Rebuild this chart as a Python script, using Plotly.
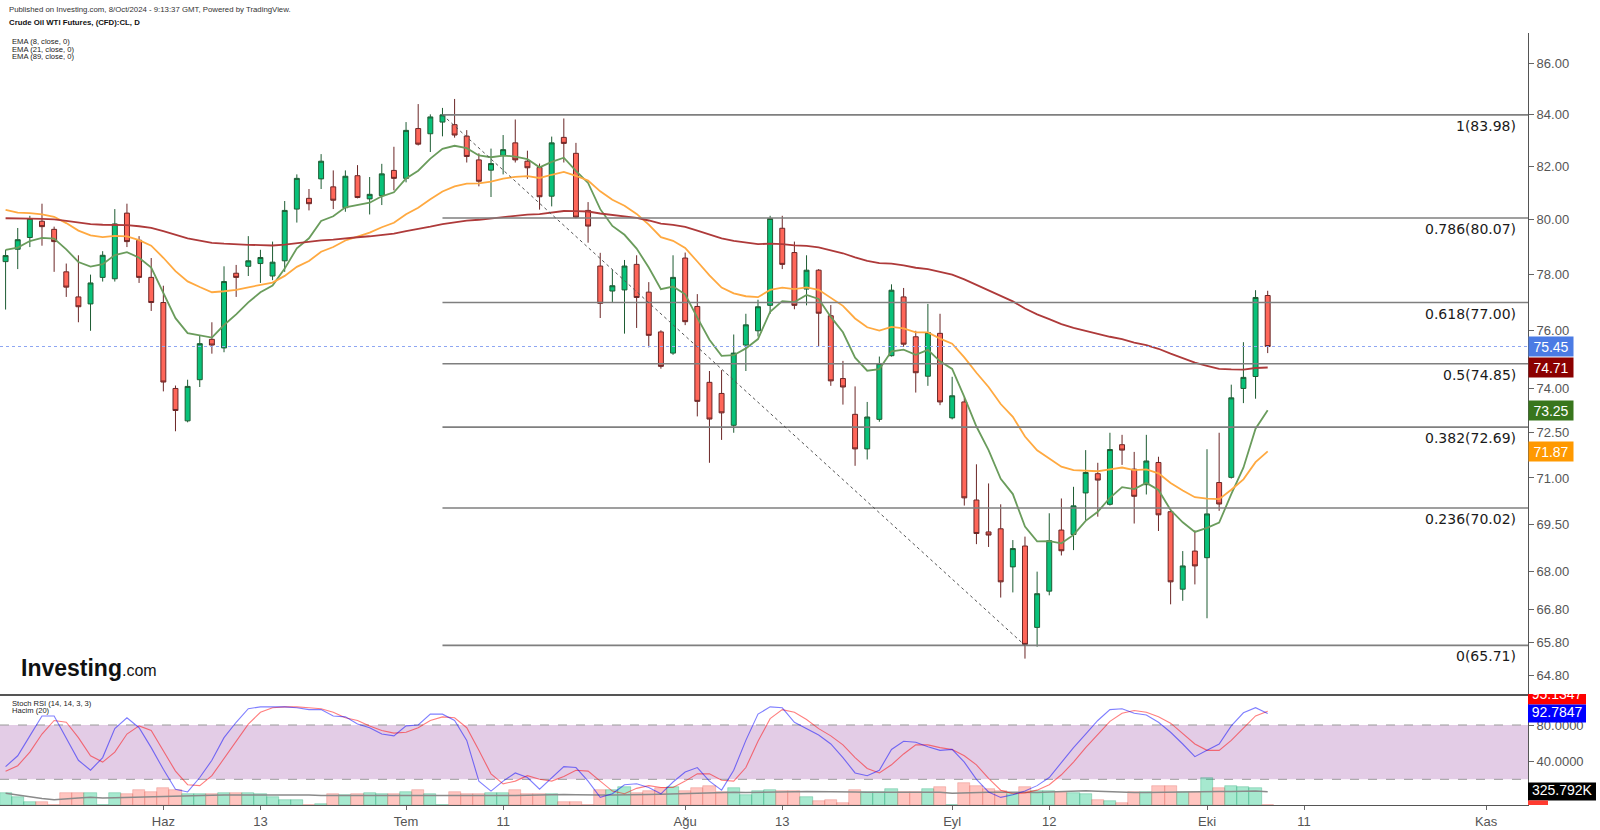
import math
import pandas as pd
import plotly.graph_objects as go

W, H = 1600, 830

# ---------------- data ----------------
# trading-day index: 0 = 3 Jun 2024 (Haz), last = 8 Oct 2024
day_index = list(range(-13, 92))

opens = [78.47, 78.92, 79.35, 79.95, 79.65, 78.10, 77.20, 76.95, 77.90, 77.85, 80.25, 79.25, 77.90,
         77.00, 74.00, 72.90, 74.30, 75.70, 75.40, 78.05, 78.30, 78.40, 77.95,
         78.50, 80.40, 80.80, 81.53, 81.23, 80.45, 81.65, 80.78, 80.90, 81.85,
         81.55, 83.45, 83.25, 83.70, 83.60, 83.16, 82.25, 81.86, 82.42, 82.90,
         82.20, 81.96, 80.88, 83.11, 82.50, 80.35, 78.31, 77.41, 77.45, 78.37,
         77.37, 75.96, 75.22, 78.60, 76.86, 74.21, 73.83, 72.75, 75.50, 76.00,
         76.90, 79.69, 78.80, 77.48, 78.16, 76.53, 74.34, 73.12, 71.96, 72.95,
         75.13, 77.20, 75.79, 74.42, 75.91, 73.00, 73.54, 70.28, 69.25, 69.35,
         68.14, 68.80, 66.26, 67.38, 69.31, 69.17, 70.51, 71.14, 70.14, 72.10,
         71.29, 70.78, 71.51, 69.90, 67.44, 68.64, 68.43, 70.85, 71.02, 74.00,
         74.41, 77.25]
highs = [78.90, 79.70, 80.15, 80.60, 79.75, 78.40, 78.70, 78.00, 78.85, 80.40, 80.60, 79.40, 78.60,
         77.60, 74.10, 74.30, 75.85, 76.30, 78.30, 78.35, 79.40, 78.90, 79.20,
         80.70, 81.70, 81.15, 82.47, 81.85, 81.85, 82.05, 81.60, 82.10, 82.75,
         83.70, 84.40, 84.00, 84.25, 84.60, 83.39, 82.50, 82.68, 83.20, 83.80,
         82.60, 82.11, 83.14, 83.84, 82.90, 80.66, 78.79, 78.18, 78.53, 78.70,
         77.73, 76.02, 78.70, 78.80, 77.30, 74.60, 74.63, 75.87, 76.60, 77.10,
         80.15, 80.15, 79.20, 78.70, 78.20, 76.91, 74.95, 74.07, 73.54, 75.10,
         77.65, 77.52, 76.00, 76.95, 76.60, 74.40, 73.70, 71.45, 70.82, 70.14,
         68.99, 69.10, 67.99, 69.85, 70.33, 70.71, 71.92, 71.50, 72.50, 72.43,
         71.86, 72.43, 71.70, 70.00, 68.64, 69.30, 71.95, 72.50, 74.13, 75.60,
         77.44, 77.42]
lows = [76.75, 78.20, 79.00, 79.05, 78.10, 77.20, 76.30, 76.00, 77.75, 77.75, 79.00, 77.70, 76.70,
        73.90, 72.55, 72.85, 74.05, 75.20, 75.25, 77.20, 77.95, 77.70, 77.80,
        78.10, 79.90, 80.35, 81.15, 80.40, 80.30, 80.80, 80.20, 80.55, 81.10,
        81.40, 82.80, 82.55, 83.15, 83.10, 82.15, 81.25, 80.85, 81.70, 82.15,
        81.53, 80.38, 80.50, 82.15, 80.06, 79.16, 76.45, 76.99, 75.90, 76.10,
        75.42, 74.68, 75.16, 76.20, 73.05, 71.50, 72.26, 72.50, 74.60, 75.80,
        76.60, 78.20, 76.76, 76.90, 75.45, 74.09, 73.45, 71.40, 71.61, 72.87,
        75.10, 75.44, 73.86, 74.09, 73.43, 72.95, 70.10, 68.86, 68.77, 67.18,
        67.34, 65.31, 65.67, 67.25, 68.50, 68.67, 69.63, 69.74, 70.10, 71.43,
        69.52, 70.46, 69.28, 66.97, 67.08, 67.59, 66.54, 69.93, 70.98, 73.50,
        73.65, 75.22]
closes = [78.69, 79.27, 80.05, 79.75, 79.20, 77.55, 76.85, 77.70, 78.70, 79.85, 79.20, 77.90, 77.00,
          74.22, 73.25, 74.07, 75.55, 75.50, 77.75, 77.90, 78.50, 78.62, 78.45,
          80.35, 81.55, 80.60, 82.20, 80.73, 81.63, 80.83, 80.95, 81.72, 81.55,
          83.38, 82.85, 83.90, 83.98, 83.20, 82.38, 81.44, 82.11, 82.64, 82.25,
          81.95, 80.86, 82.90, 82.88, 80.10, 79.77, 76.97, 77.60, 78.31, 77.18,
          75.84, 74.76, 77.90, 76.32, 73.56, 72.96, 73.17, 75.22, 76.21, 76.85,
          80.05, 78.37, 76.90, 78.16, 76.62, 74.26, 74.05, 71.96, 73.03, 74.86,
          77.44, 75.53, 74.54, 75.94, 73.54, 73.75, 70.35, 69.20, 69.15, 67.67,
          68.72, 65.74, 67.30, 68.97, 68.65, 70.09, 71.18, 70.93, 71.94, 71.92,
          70.40, 71.56, 69.80, 67.67, 68.17, 68.17, 69.83, 70.15, 73.68, 74.38,
          77.18, 75.45]

volume_k = [280, 200, 72, 72, 12, 280, 280, 280, 12, 280, 257, 353, 320,
            400, 360, 257, 257, 257, 280, 280, 280, 257, 200,
            113, 120, 12, 31, 257, 240, 257, 280, 257, 257,
            320, 353, 257, 12, 312, 257, 257, 280, 280, 353,
            257, 257, 257, 72, 72, 12, 360, 360, 432, 280,
            336, 400, 432, 336, 415, 456, 320, 400, 240, 336,
            367, 343, 343, 200, 89, 120, 41, 367, 320, 320,
            384, 320, 320, 384, 425, 12, 528, 463, 384, 343,
            264, 425, 343, 343, 320, 288, 264, 120, 89, 41,
            320, 320, 449, 449, 320, 320, 641, 408, 449, 425,
            400, 8]

stoch_k = [34, 46, 68, 90, 90, 66, 41, 30, 44, 76, 88, 77, 55,
           31, 9, 6, 22, 41, 66, 83, 98, 100, 100,
           100, 99, 97, 97, 90, 89, 81, 77, 70, 68,
           79, 80, 92, 92, 85, 63, 18, 7, 18, 27,
           22, 9, 22, 34, 33, 18, 0, 4, 14, 15,
           11, 4, 17, 28, 33, 18, 8, 30, 63, 92,
           100, 99, 83, 76, 69, 59, 44, 27, 24, 30,
           53, 62, 61, 56, 52, 53, 39, 20, 6, 0,
           3, 7, 13, 22, 39, 55, 70, 85, 97, 98,
           93, 91, 83, 72, 59, 45, 52, 59, 79, 93.5,
           99.1, 92.7847]
stoch_d = [29, 35, 50, 70, 85, 83, 66, 46, 39, 50, 70, 79, 74,
           52, 29, 14, 13, 24, 43, 63, 81, 94, 99,
           100, 100, 99, 98, 94, 88, 85, 79, 74, 71,
           72, 77, 85, 89, 88, 77, 52, 26, 15, 18,
           24, 20, 18, 23, 30, 29, 18, 7, 4, 10,
           13, 11, 11, 18, 26, 26, 19, 18, 33, 62,
           87, 97, 94, 86, 76, 68, 58, 44, 32, 27,
           36, 48, 58, 58, 55, 53, 46, 36, 21, 8,
           4, 5, 8, 14, 25, 39, 55, 70, 84, 93,
           96, 94, 89, 82, 71, 59, 52, 52, 63, 77,
           90, 95.1347]

# EMA periods and their starting values read at the first candle
ema_periods = [8, 21, 89]
ema_seeds = [78.90, 80.37, 80.06]
ema_last_labels = [73.25, 71.87, 74.71]
ema_colors = ['#6a9c5c', '#ffa940', '#ae3a3a']
ema_box_colors = ['#38761d', '#ff9900', '#8b0000']

fib_ratios = ['1', '0.786', '0.618', '0.5', '0.382', '0.236', '0']
fib_prices = [83.98, 80.07, 77.00, 74.85, 72.69, 70.02, 65.71]
fib_high_index = 23   # 4 Jul swing high
fib_low_index = 71    # 10 Sep swing low

last_price = 75.45
vol_ma_label = 325.792

tick_index = [0, 8, 20, 28, 43, 51, 65, 73, 86, 94, 109]
tick_text = ['Haz', '13', 'Tem', '11', 'Ağu', '13', 'Eyl', '12', 'Eki', '11', 'Kas']
price_ticks = [86.0, 84.0, 82.0, 80.0, 78.0, 76.0, 74.0, 72.5, 71.0, 69.5, 68.0, 66.8, 65.8, 64.8]
stoch_ticks = [80, 40]

# ---------------- layout geometry ----------------
X_MIN, X_MAX = -13.46, 112.45
AX_X = 1528 / W
MAIN_DOM = [(H - 694) / H, (H - 33) / H]
SUB_DOM = [(H - 805) / H, (H - 694) / H]
P_MIN, P_MAX = 64.25, 87.22
ST_MIN, ST_MAX = -8.4, 114.25
VOL_MAX = 2664

GREEN, RED = '#08c27a', '#ff6659'
FONT = 'Liberation Sans'

def ema(values, period, seed):
    a = 2.0 / (period + 1)
    out = [seed]
    for v in values[1:]:
        out.append(out[-1] + a * (v - out[-1]))
    return out

fig = go.Figure()

# candles
fig.add_trace(go.Candlestick(
    x=day_index, open=opens, high=highs, low=lows, close=closes,
    increasing=dict(fillcolor=GREEN, line=dict(color='#1e5c33', width=1)),
    decreasing=dict(fillcolor=RED, line=dict(color='#6b2626', width=1)),
    whiskerwidth=0, hoverinfo='skip', xaxis='x', yaxis='y'))

# EMAs
for per, seed, col in zip(ema_periods, ema_seeds, ema_colors):
    fig.add_trace(go.Scatter(x=day_index, y=ema(closes, per, seed), mode='lines',
                             line=dict(color=col, width=1.8), hoverinfo='skip',
                             xaxis='x', yaxis='y'))

# current price dotted line
fig.add_trace(go.Scatter(x=[X_MIN, X_MAX], y=[last_price, last_price], mode='lines',
                         line=dict(color='#8ea6f2', width=1, dash='dot'),
                         hoverinfo='skip', xaxis='x', yaxis='y'))

# fibonacci levels
fx, fy = [], []
for p in fib_prices:
    fx += [fib_high_index, X_MAX, None]
    fy += [p, p, None]
fig.add_trace(go.Scatter(x=fx, y=fy, mode='lines', line=dict(color='#7f7f7f', width=1.6),
                         hoverinfo='skip', xaxis='x', yaxis='y'))
# trend line of the retracement
fig.add_trace(go.Scatter(x=[fib_high_index, fib_low_index], y=[fib_prices[0], fib_prices[-1]],
                         mode='lines', line=dict(color='#555555', width=1, dash='dot'),
                         hoverinfo='skip', xaxis='x', yaxis='y'))

# volume
vol_colors = ['rgba(8,194,122,0.36)' if c >= o else 'rgba(255,102,89,0.38)' for o, c in zip(opens, closes)]
vol_line = ['rgba(8,150,95,0.45)' if c >= o else 'rgba(220,80,70,0.45)' for o, c in zip(opens, closes)]
fig.add_trace(go.Bar(x=day_index, y=volume_k, width=1.0, marker=dict(color=vol_colors, line=dict(color=vol_line, width=0.6)),
                     hoverinfo='skip', xaxis='x2', yaxis='y2'))
vol_ma = pd.Series(volume_k).rolling(20, min_periods=1).mean().tolist()
fig.add_trace(go.Scatter(x=day_index, y=vol_ma, mode='lines', line=dict(color='#8a8a8a', width=1.5),
                         hoverinfo='skip', xaxis='x2', yaxis='y2'))

# stoch RSI
fig.add_trace(go.Scatter(x=day_index, y=stoch_d, mode='lines', line=dict(color='rgba(255,0,0,0.5)', width=1.1),
                         hoverinfo='skip', xaxis='x2', yaxis='y3'))
fig.add_trace(go.Scatter(x=day_index, y=stoch_k, mode='lines', line=dict(color='rgba(0,0,255,0.5)', width=1.1),
                         hoverinfo='skip', xaxis='x2', yaxis='y3'))

# right-side clipped labels of lower pane (aux subplot)
half = 9.95
k_last, d_last = stoch_k[-1], stoch_d[-1]
d_center = k_last + 2 * half
vol_center = ST_MIN + vol_ma_label / VOL_MAX * (ST_MAX - ST_MIN)
shapes = []
# stoch band
shapes.append(dict(type='rect', xref='x2 domain', yref='y3', x0=0, x1=1, y0=20, y1=80,
                   fillcolor='#e3cce6', line=dict(width=0), layer='below'))
for lv in (20, 80):
    shapes.append(dict(type='line', xref='x2 domain', yref='y3', x0=0, x1=1, y0=lv, y1=lv,
                       line=dict(color='#9a9a9a', width=1, dash='dash'), layer='below'))
for (x1, yc, col) in [(58, d_center, '#ff0000'), (58, k_last, '#0000ff'), (68, vol_center, '#000000'),
                      (20, vol_center - 2 * half, '#ff3b30')]:
    shapes.append(dict(type='rect', xref='x4', yref='y4', x0=0, x1=x1, y0=yc - half, y1=yc + half,
                       fillcolor=col, line=dict(width=0), layer='below'))
fig.add_trace(go.Scatter(x=[29, 29, 34], y=[d_center, k_last, vol_center], mode='text',
                         text=[f'{d_last:.4f}', f'{k_last:.4f}', f'{vol_ma_label:.3f}K'],
                         textfont=dict(family=FONT, size=14, color='white'), cliponaxis=True,
                         hoverinfo='skip', xaxis='x4', yaxis='y4'))

ann = []
def txt(t, x, y, size, color='#333', bold=False, anchor='left', family=FONT):
    ann.append(dict(text=f'<b>{t}</b>' if bold else t, x=x / W, y=1 - y / H, xref='paper', yref='paper',
                    xanchor=anchor, yanchor='middle', showarrow=False,
                    font=dict(family=family, size=size, color=color)))

txt('Published on Investing.com, 8/Oct/2024 - 9:13:37 GMT, Powered by TradingView.', 7, 9, 7.8)
txt('Crude Oil WTI Futures, (CFD):CL, D', 7, 22.5, 7.8, color='#111', bold=True)
for j, per in enumerate(ema_periods):
    txt(f'EMA ({per}, close, 0)', 10, 41.5 + 7.6 * j, 7.6, color='#222')
txt('Stoch RSI (14, 14, 3, 3)', 10, 703, 7.6, color='#222')
txt('Hacim (20)', 10, 710.5, 7.6, color='#222')
ann.append(dict(text="<b>Investing</b><span style='font-size:16px'>.com</span>", x=19 / W, y=1 - 668 / H,
                xref='paper', yref='paper', xanchor='left', yanchor='middle', showarrow=False,
                font=dict(family=FONT, size=23, color='#111')))

# fib labels
for r, p in zip(fib_ratios, fib_prices):
    ann.append(dict(text=f'{r}({p:.2f})', x=1518 / W, xref='paper', y=math.log10(p), yref='y',
                    xanchor='right', yanchor='top', yshift=-1, showarrow=False,
                    font=dict(family='DejaVu Sans', size=14, color='#1a1a1a')))

# price boxes on right axis
for val, col in [(last_price, '#4b7be4')] + list(zip(ema_last_labels, ema_box_colors)):
    ann.append(dict(text=f'{val:.2f}', x=AX_X, xref='paper', y=math.log10(val), yref='y',
                    xanchor='left', yanchor='middle', showarrow=False, bgcolor=col,
                    width=40, height=15, borderpad=2,
                    font=dict(family=FONT, size=14, color='white')))

axis_font = dict(family=FONT, size=13, color='#555')
fig.update_layout(
    width=W, height=H, margin=dict(l=0, r=0, t=0, b=0),
    paper_bgcolor='white', plot_bgcolor='white', showlegend=False,
    boxgap=0.42, bargap=0, font=dict(family=FONT),
    xaxis=dict(domain=[0, AX_X], range=[X_MIN, X_MAX], anchor='y', showticklabels=False, ticks='',
               showgrid=False, zeroline=False, showline=True, linecolor='#555', linewidth=2,
               rangeslider=dict(visible=False)),
    yaxis=dict(domain=MAIN_DOM, type='log', range=[math.log10(P_MIN), math.log10(P_MAX)],
               anchor='x', side='right', tickmode='array', tickvals=price_ticks,
               ticktext=[f'{t:.2f}' for t in price_ticks], ticks='outside', ticklen=5,
               tickcolor='#666', showline=True, linecolor='#555', linewidth=1,
               showgrid=False, zeroline=False, tickfont=axis_font),
    xaxis2=dict(domain=[0, AX_X], range=[X_MIN, X_MAX], anchor='y2', tickmode='array',
                tickvals=tick_index, ticktext=tick_text, ticks='outside', ticklen=4,
                tickcolor='#666', showline=True, linecolor='#555', linewidth=1,
                showgrid=False, zeroline=False, tickfont=axis_font),
    yaxis2=dict(domain=SUB_DOM, range=[0, VOL_MAX], anchor='x2', visible=False),
    yaxis3=dict(domain=SUB_DOM, range=[ST_MIN, ST_MAX], anchor='x2', overlaying='y2', side='right',
                tickmode='array', tickvals=stoch_ticks, ticktext=[f'{t:.4f}' for t in stoch_ticks],
                ticks='outside', ticklen=5, tickcolor='#666', showline=True, linecolor='#555',
                linewidth=1, showgrid=False, zeroline=False, tickfont=axis_font),
    xaxis4=dict(domain=[AX_X, 1], range=[0, 72], anchor='y4', visible=False),
    yaxis4=dict(domain=SUB_DOM, range=[ST_MIN, ST_MAX], anchor='x4', visible=False),
    shapes=shapes, annotations=ann,
)

fig.write_html('out.html')
